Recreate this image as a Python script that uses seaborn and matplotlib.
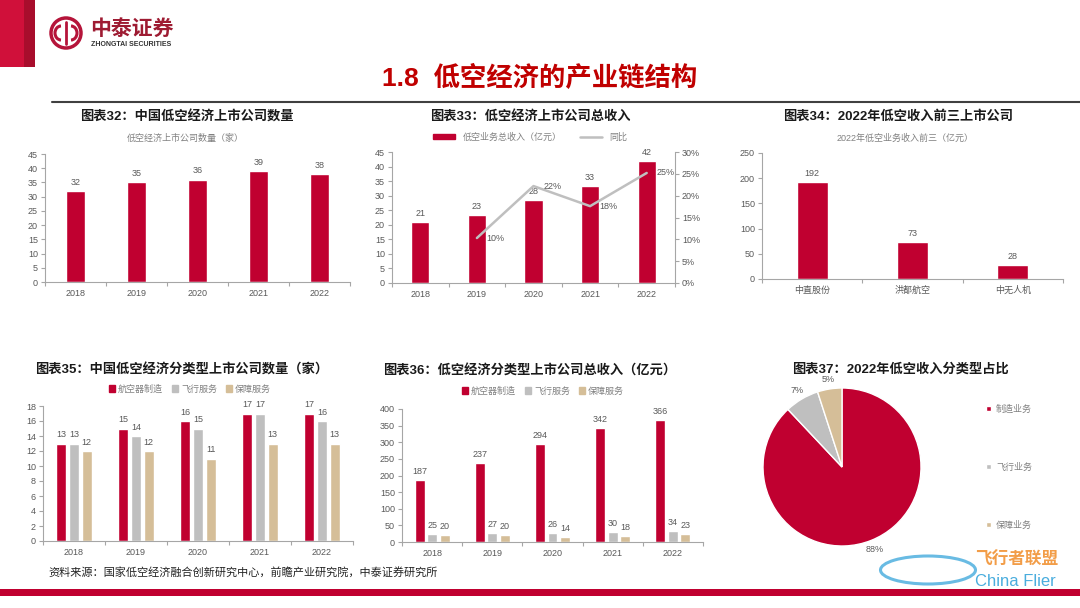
import numpy as np
import pandas as pd
import matplotlib.pyplot as plt
import seaborn as sns
from matplotlib.patches import Rectangle, Circle, Patch, Ellipse, Arc
from matplotlib.lines import Line2D

# ---- data ----
years = ['2018', '2019', '2020', '2021', '2022']
listed_count = [32, 35, 36, 39, 38]
total_revenue = [21, 23.2, 28.4, 33.4, 41.9]
yoy_years = ['2019', '2020', '2021', '2022']
yoy_growth = [0.103, 0.222, 0.176, 0.252]
top3_names = ['中直股份', '洪都航空', '中无人机']
top3_revenue = [192, 73, 28]
seg_names = ['航空器制造', '飞行服务', '保障服务']
seg_count_mfg = [13, 15, 16, 17, 17]
seg_count_flight = [13, 14, 15, 17, 16]
seg_count_support = [12, 12, 11, 13, 13]
seg_rev_mfg = [187, 237, 294, 342, 366]
seg_rev_flight = [25, 27, 26, 30, 34]
seg_rev_support = [20, 20, 14, 18, 23]
pie_names = ['制造业务', '飞行业务', '保障业务']
pie_share = [88, 7, 5]

RED = '#C00030'
GREY = '#BFBFBF'
TAN = '#D5BE98'
TXT = '#595959'
AX = '#A6A6A6'
W, H = 1080, 608

sns.set_theme(style='ticks')
plt.rcParams['font.family'] = ['Liberation Sans', 'Noto Sans CJK SC', 'DejaVu Sans']

fig = plt.figure(figsize=(10.8, 6.08), dpi=100)


def rect(x0, y0, x1, y1):
    return [x0 / W, 1 - y1 / H, (x1 - x0) / W, (y1 - y0) / H]


def ftext(x, y, s, **kw):
    fig.text(x / W, 1 - y / H, s, **kw)


def style(ax, n, ymax, step):
    sns.despine(ax=ax)
    for s in ['left', 'bottom']:
        ax.spines[s].set_color(AX)
        ax.spines[s].set_linewidth(0.8)
    ax.set_ylim(0, ymax)
    ax.set_yticks(np.arange(0, ymax + step / 2, step))
    ax.set_xlim(-0.5, n - 0.5)
    ax.set_xticks(np.arange(-0.5, n, 1), minor=True)
    ax.tick_params(axis='y', length=3, width=0.8, color=AX, labelsize=6.5, labelcolor=TXT, pad=2)
    ax.tick_params(axis='x', which='major', length=0, labelsize=6.5, labelcolor=TXT, pad=5)
    ax.tick_params(axis='x', which='minor', length=3, width=0.8, color=AX)
    ax.set_xlabel('')
    ax.set_ylabel('')
    ax.set_facecolor('none')


# ---- page decoration ----
bg = fig.add_axes([0, 0, 1, 1], zorder=-5)
bg.set_xlim(0, W)
bg.set_ylim(H, 0)
bg.axis('off')
bg.add_patch(Rectangle((0, 0), 24, 67, color='#D0103A', lw=0))
bg.add_patch(Rectangle((24, 0), 11, 67, color='#A80D2C', lw=0))
bg.add_patch(Circle((66, 33), 15, fill=False, ec='#B5143A', lw=2.5))
bg.add_patch(Arc((61, 33), 12, 14, theta1=90, theta2=270, ec='#B5143A', lw=2.2))
bg.add_patch(Arc((71, 33), 12, 14, theta1=-90, theta2=90, ec='#B5143A', lw=2.2))
bg.plot([66, 66], [22, 44], color='#B5143A', lw=2)
bg.plot([52, 1080], [102, 102], color='#404040', lw=1.5)
bg.add_patch(Rectangle((0, 589), W, 7, color='#C00030', lw=0))
bg.add_patch(Ellipse((928, 570), 95, 28, fill=False, ec='#2A9FD8', lw=2.2, alpha=0.7))

ftext(90, 29, '中泰证券', fontsize=15, fontweight='bold', color='#9E1B32', va='center')
ftext(91, 44, 'ZHONGTAI SECURITIES', fontsize=5, fontweight='bold', color='#333333', va='center')
ftext(540, 78, '1.8  低空经济的产业链结构', fontsize=19, fontweight='bold', color='#C00000',
      ha='center', va='center')
ftext(48, 572, '资料来源：国家低空经济融合创新研究中心，前瞻产业研究院，中泰证券研究所',
      fontsize=8, color='#222222', va='center')
ftext(975, 560, '飞行者联盟', fontsize=12, fontweight='bold', color='#F08C28', va='center', alpha=0.85)
ftext(975, 582, 'China Flier', fontsize=12, color='#2A9FD8', va='center', alpha=0.85)

title_kw = dict(fontsize=9.5, fontweight='bold', color='#1a1a1a', ha='center', va='center')
sub_kw = dict(fontsize=6.5, color='#808080', ha='center', va='center')
lab_kw = dict(fontsize=6.5, color=TXT)

# ---- 图表32 ----
ax = fig.add_axes(rect(45, 154, 350, 282))
sns.barplot(x=years, y=listed_count, color=RED, saturation=1, width=0.32, ax=ax)
style(ax, len(years), 45, 5)
ax.bar_label(ax.containers[0], fmt='%.0f', padding=3, **lab_kw)
ftext(187, 117, '图表32：中国低空经济上市公司数量', **title_kw)
ftext(185, 138, '低空经济上市公司数量（家）', **sub_kw)

# ---- 图表33 ----
ax = fig.add_axes(rect(392, 152, 675, 283))
sns.barplot(x=years, y=total_revenue, color=RED, saturation=1, width=0.32, ax=ax)
style(ax, len(years), 45, 5)
ax.bar_label(ax.containers[0], fmt='%.0f', padding=3, **lab_kw)
ax2 = ax.twinx()
xpos = [years.index(y) for y in yoy_years]
ax2.plot(xpos, yoy_growth, color=GREY, lw=1.8)
for x, v in zip(xpos, yoy_growth):
    ax2.annotate(f'{v:.0%}', (x, v), xytext=(7, 0), textcoords='offset points',
                 ha='left', va='center', **lab_kw)
ax2.set_ylim(0, 0.30)
ax2.set_yticks(np.arange(0, 0.301, 0.05))
ax2.yaxis.set_major_formatter(plt.FuncFormatter(lambda v, p: f'{v:.0%}'))
for s in ['top', 'left', 'bottom']:
    ax2.spines[s].set_visible(False)
ax2.spines['right'].set_color(AX)
ax2.spines['right'].set_linewidth(0.8)
ax2.tick_params(axis='y', length=3, width=0.8, color=AX, labelsize=6.5, labelcolor=TXT, pad=2)
ax.legend([Patch(color=RED), Line2D([], [], color=GREY, lw=1.8)],
          ['低空业务总收入（亿元）', '同比'], loc='center', ncol=2, frameon=False,
          bbox_to_anchor=(530 / W, 1 - 137 / H), bbox_transform=fig.transFigure,
          fontsize=6.5, labelcolor='#808080', handlelength=2.5, handleheight=0.6,
          columnspacing=2)
ftext(530, 116, '图表33：低空经济上市公司总收入', **title_kw)

# ---- 图表34 ----
ax = fig.add_axes(rect(762, 153, 1063, 279))
sns.barplot(x=top3_names, y=top3_revenue, color=RED, saturation=1, width=0.31, ax=ax)
style(ax, len(top3_names), 250, 50)
ax.bar_label(ax.containers[0], fmt='%.0f', padding=3, **lab_kw)
ftext(898, 116, '图表34：2022年低空收入前三上市公司', **title_kw)
ftext(905, 138, '2022年低空业务收入前三（亿元）', **sub_kw)

# ---- 图表35 / 图表36 ----
palette = [RED, GREY, TAN]
seg_count = pd.DataFrame({'year': years * 3, 'type': np.repeat(seg_names, len(years)),
                          'value': seg_count_mfg + seg_count_flight + seg_count_support})
seg_rev = pd.DataFrame({'year': years * 3, 'type': np.repeat(seg_names, len(years)),
                        'value': seg_rev_mfg + seg_rev_flight + seg_rev_support})
handles = [Patch(color=c) for c in palette]

for df, box, ymax, step, title, tpos, lpos in [
        (seg_count, (43, 406, 353, 541), 18, 2, '图表35：中国低空经济分类型上市公司数量（家）', (182, 370), (190, 389)),
        (seg_rev, (402, 409, 703, 542), 400, 50, '图表36：低空经济分类型上市公司总收入（亿元）', (530, 371), (543, 391))]:
    ax = fig.add_axes(rect(*box))
    sns.barplot(data=df, x='year', y='value', hue='type', hue_order=seg_names, palette=palette,
                saturation=1, width=0.62, gap=0.2, legend=False, ax=ax)
    style(ax, len(years), ymax, step)
    for c in ax.containers:
        ax.bar_label(c, fmt='%.0f', padding=3, **lab_kw)
    ax.legend(handles, seg_names, loc='center', ncol=3, frameon=False,
              bbox_to_anchor=(lpos[0] / W, 1 - lpos[1] / H), bbox_transform=fig.transFigure,
              fontsize=6.5, labelcolor='#808080', handlelength=0.7, handleheight=0.7,
              handletextpad=0.3, columnspacing=1.0)
    ftext(tpos[0], tpos[1], title, **title_kw)

# ---- 图表37 ----
ax = fig.add_axes(rect(763, 388, 921, 546))
wedges, _, autotexts = ax.pie(pie_share, colors=palette, startangle=90, counterclock=False,
                              wedgeprops=dict(edgecolor='white', linewidth=1),
                              autopct='%.0f%%', pctdistance=1.12,
                              textprops=dict(fontsize=6.5, color=TXT))
ax.set_xlim(-1, 1)
ax.set_ylim(-1, 1)
ax.set_aspect('equal')
ax.legend(wedges, pie_names, loc='center left', frameon=False,
          bbox_to_anchor=(978 / W, 1 - 467 / H), bbox_transform=fig.transFigure,
          fontsize=6.5, labelcolor='#808080', handlelength=0.5, handleheight=0.5,
          handletextpad=0.6, labelspacing=5.4)
ftext(900, 369, '图表37：2022年低空收入分类型占比', **title_kw)

fig.savefig('out.png', dpi=100)
